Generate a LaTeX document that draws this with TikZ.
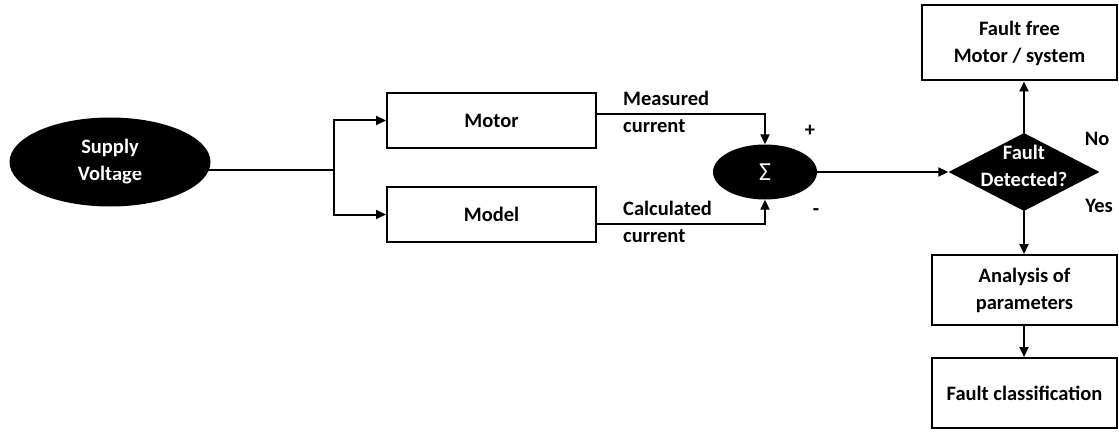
\documentclass[tikz,border=0pt]{standalone}
\usepackage{fontspec}
\setmainfont{Carlito}
\usetikzlibrary{shapes.geometric,arrows.meta,calc}
\tikzset{
  base/.style={font=\fontsize{20.5}{27}\selectfont\bfseries, align=center, inner sep=0pt},
  blk/.style={base, draw=black, line width=2pt, fill=white, text=black},
  blob/.style={base, ellipse, fill=black, text=white},
  lbl/.style={base, text=black},
  conn/.style={line width=2pt},
  arr/.style={conn, -{Triangle[length=10pt,width=9pt]}},
}
\begin{document}
\begin{tikzpicture}[x=1pt,y=-1pt]
\useasboundingbox (0,0) rectangle (1119,433);
\fill[white] (0,0) rectangle (1119,433);

% nodes
\node[blob, minimum width=201pt, minimum height=89pt] (sv) at (110,162) {Supply\\Voltage};
\node[blk, minimum width=209pt, minimum height=55pt] (motor) at (491.5,120.5) {Motor};
\node[blk, minimum width=209pt, minimum height=55pt] (model) at (491.5,214.5) {Model};
\node[blob, minimum width=104pt, minimum height=55pt] (sum) at (765,172) {\fontsize{26}{26}\selectfont\mdseries Σ};
\node[diamond, fill=black, minimum width=151pt, minimum height=78pt, inner sep=0pt] (dia) at (1024,172) {};
\node[base, text=white] (diat) at (1024,166) {Fault\\Detected?};
\node[blk, minimum width=195pt, minimum height=75pt] (ff) at (1019.5,43) {Fault free\\Motor / system};
\node[blk, minimum width=185pt, minimum height=70pt] (an) at (1024.5,290) {Analysis of\\parameters};
\node[blk, minimum width=185pt, minimum height=70pt] (fc) at (1024.5,393) {Fault classification};

% labels
\node[lbl, align=left, anchor=west] (ml) at (623,112) {Measured\\current};
\node[lbl, align=left, anchor=west] (cl) at (623,222) {Calculated\\current};
\node[lbl] (plus) at (810,131) {+};
\node[lbl] (minus) at (816,212) {-};
\node[lbl] (no) at (1097,139) {No};
\node[lbl] (yes) at (1099,206) {Yes};

% connectors
\coordinate (J) at (334,170);
\draw[conn] (sv.center |- J) -- (J);
\draw[arr] (J) |- (motor.west);
\draw[arr] (J) |- (model.west);
\draw[arr] ($(motor.east)+(0,-6)$) -| (sum.north);
\draw[arr] ($(model.east)+(0,9)$) -| (sum.south);
\draw[arr] (sum.east) -- (dia.west);
\draw[arr] (dia.north) -- (dia.north |- ff.south);
\draw[arr] (dia.south) -- (dia.south |- an.north);
\draw[arr] (an.south -| dia.south) -- (dia.south |- fc.north);
\end{tikzpicture}
\end{document}
